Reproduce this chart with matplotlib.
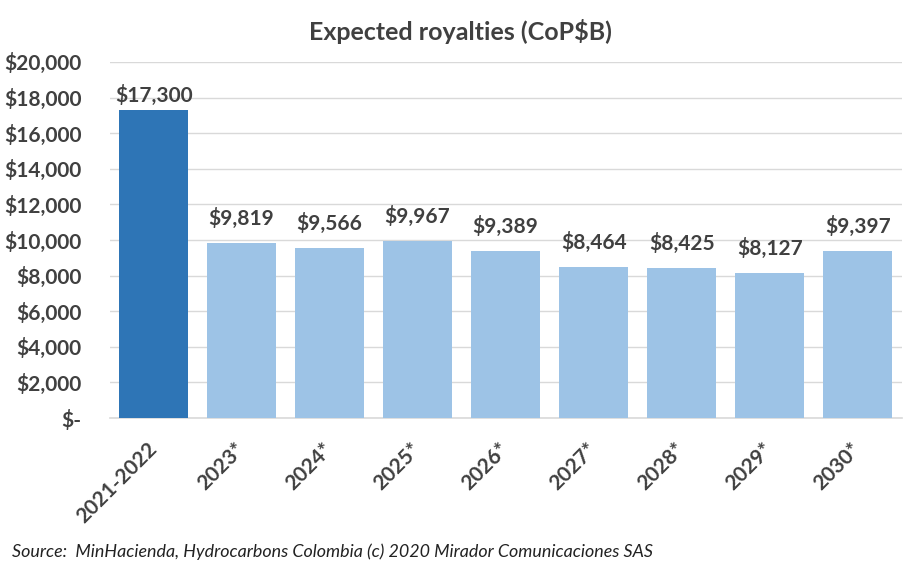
import matplotlib
matplotlib.use("Agg")
import matplotlib.pyplot as plt
from matplotlib.ticker import FuncFormatter

categories = ["2021-2022", "2023*", "2024*", "2025*", "2026*", "2027*", "2028*", "2029*", "2030*"]
values = [17300, 9819, 9566, 9967, 9389, 8464, 8425, 8127, 9397]
yticks = [0, 2000, 4000, 6000, 8000, 10000, 12000, 14000, 16000, 18000, 20000]

plt.rcParams['font.family'] = ['Lato', 'DejaVu Sans']
txt = '#404040'

fig = plt.figure(figsize=(9.21, 5.68), dpi=100)
ax = fig.add_axes([0.119, 0.264, 0.860, 0.627])

colors = ['#2E75B6'] + ['#9DC3E6'] * (len(values) - 1)
x = list(range(len(categories)))
ax.bar(x, values, width=0.78, color=colors, zorder=3)

for i, v in enumerate(values):
    off = 3 if i == 0 else 10
    ax.annotate(f"${v:,}", (i, v), xytext=(0, off), textcoords='offset points',
                ha='center', va='bottom', fontsize=15, fontweight='bold', color=txt)

ax.set_xlim(-0.5, len(categories) - 0.5)
ax.set_ylim(0, 20000)
ax.set_yticks(yticks)
ax.yaxis.set_major_formatter(FuncFormatter(lambda v, p: "$-" if v == 0 else f"${int(v):,}"))
ax.grid(axis='y', color='#D9D9D9', linewidth=1, zorder=0)
for s in ['top', 'right', 'left']:
    ax.spines[s].set_visible(False)
ax.spines['bottom'].set_color('#D9D9D9')
ax.spines['bottom'].set_linewidth(1.2)
ax.tick_params(axis='both', length=0, colors=txt)
ax.tick_params(axis='y', pad=20, labelsize=15)
ax.tick_params(axis='x', pad=20, labelsize=15)
ax.set_xticks(x)
ax.set_xticklabels(categories, rotation=45, ha='right', va='center',
                   rotation_mode='anchor', fontweight='bold')
for lab in ax.get_yticklabels():
    lab.set_fontweight('bold')

fig.text(0.5, 0.945, "Expected royalties (CoP$B)", ha='center', va='center',
         fontsize=18, fontweight='bold', color=txt)
fig.text(0.013, 0.028, "Source:  MinHacienda, Hydrocarbons Colombia (c) 2020 Mirador Comunicaciones SAS",
         ha='left', va='center', fontsize=12.9, style='italic', color='#222222')

fig.savefig("out.png", dpi=100)
